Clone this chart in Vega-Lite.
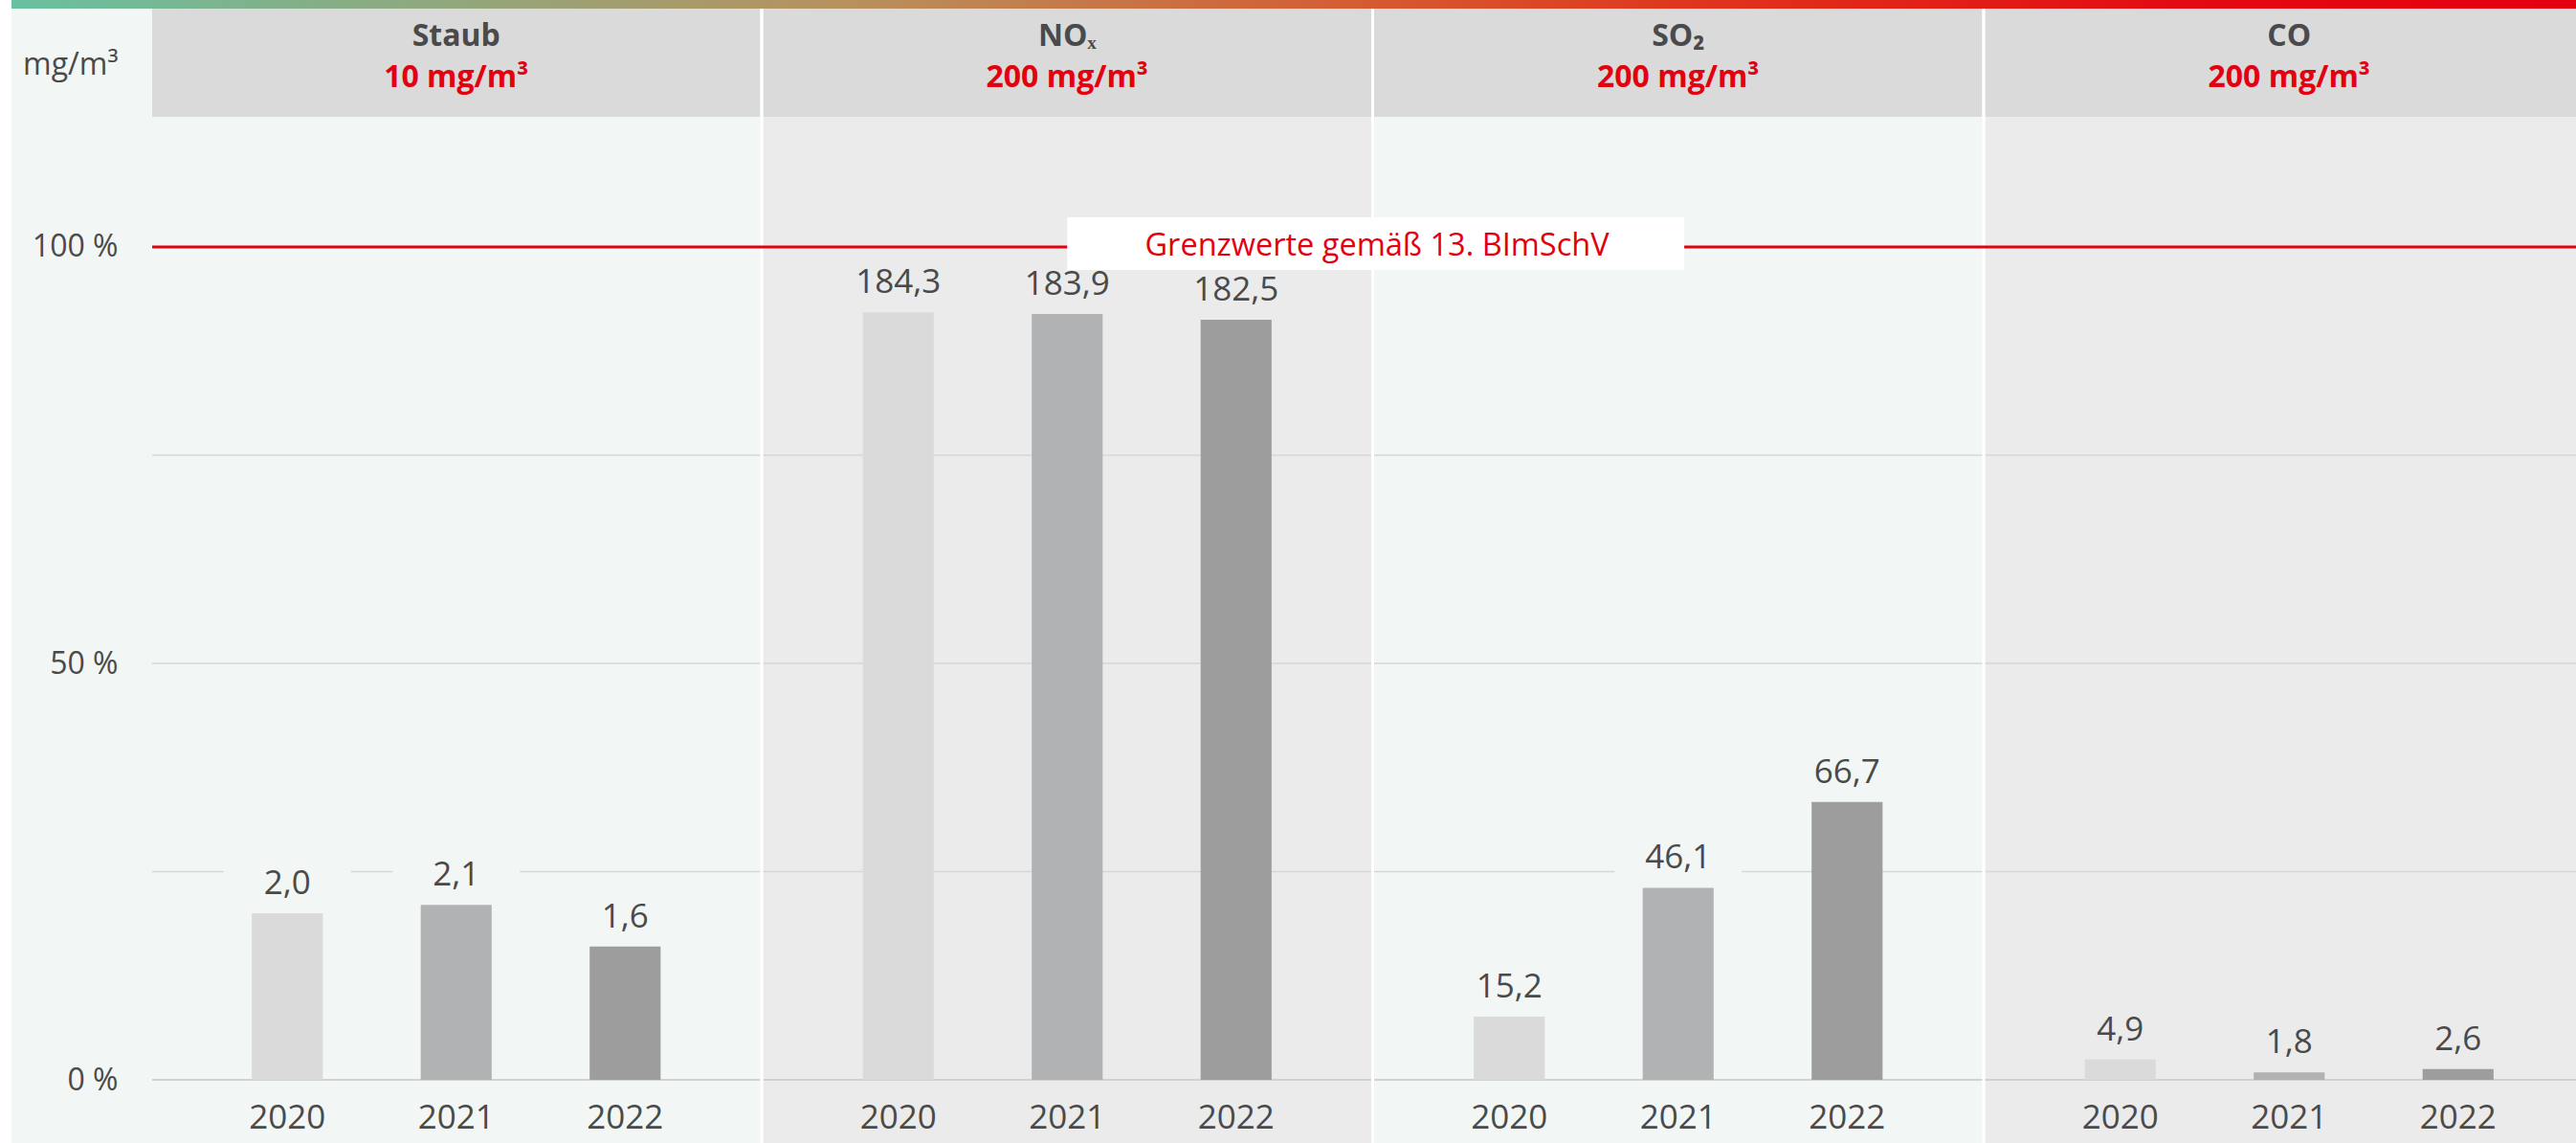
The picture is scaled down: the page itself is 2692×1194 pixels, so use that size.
{
  "$schema": "https://vega.github.io/schema/vega-lite/v6.json",
  "width": 2680,
  "height": 1194,
  "autosize": {"type": "none"},
  "padding": {"left": 12, "top": 0, "right": 0, "bottom": 0},
  "background": "#ffffff",
  "view": {"fill": "#f2f7f5", "stroke": null},
  "datasets": {
    "messwerte": [
      {"stoff": "Staub", "jahr": "2020", "wert": 2.0, "anteil": 20},
      {"stoff": "Staub", "jahr": "2021", "wert": 2.1, "anteil": 21},
      {"stoff": "Staub", "jahr": "2022", "wert": 1.6, "anteil": 16},
      {"stoff": "NOₓ", "jahr": "2020", "wert": 184.3, "anteil": 92.15},
      {"stoff": "NOₓ", "jahr": "2021", "wert": 183.9, "anteil": 91.95},
      {"stoff": "NOₓ", "jahr": "2022", "wert": 182.5, "anteil": 91.25},
      {"stoff": "SO₂", "jahr": "2020", "wert": 15.2, "anteil": 7.6},
      {"stoff": "SO₂", "jahr": "2021", "wert": 46.1, "anteil": 23.05},
      {"stoff": "SO₂", "jahr": "2022", "wert": 66.7, "anteil": 33.35},
      {"stoff": "CO", "jahr": "2020", "wert": 4.9, "anteil": 2.45},
      {"stoff": "CO", "jahr": "2021", "wert": 1.8, "anteil": 0.9},
      {"stoff": "CO", "jahr": "2022", "wert": 2.6, "anteil": 1.3}
    ],
    "stoffe": [
      {"stoff": "Staub", "grenzwert": "10 mg/m³"},
      {"stoff": "NOₓ", "grenzwert": "200 mg/m³"},
      {"stoff": "SO₂", "grenzwert": "200 mg/m³"},
      {"stoff": "CO", "grenzwert": "200 mg/m³"}
    ],
    "raster": [{"linie": 25}, {"linie": 50}, {"linie": 75}],
    "einzeln": [{"text": "Grenzwerte gemäß 13. BImSchV"}]
  },
  "layer": [
    {
      "data": {"name": "stoffe"},
      "mark": {"type": "rect"},
      "encoding": {
        "x": {"field": "stoff", "type": "nominal", "sort": null,
              "scale": {"domain": ["Staub", "NOₓ", "SO₂", "CO"], "range": [147, 2698], "paddingInner": 0.0047, "paddingOuter": 0},
              "axis": null},
        "y": {"datum": -7.586, "type": "quantitative",
              "scale": {"domain": [-7.586, 129.655], "nice": false, "zero": false},
              "axis": {"values": [0, 25, 50, 75, 100],
                       "labelExpr": "datum.value === 0 || datum.value === 50 || datum.value === 100 ? datum.value + ' %' : ''",
                       "grid": false, "ticks": false, "domain": false, "offset": -147, "labelPadding": 36,
                       "labelFont": "Open Sans", "labelFontSize": 32, "labelColor": "#4a4a4a",
                       "title": "mg/m³", "titleAngle": 0, "titleAlign": "right", "titleBaseline": "alphabetic",
                       "titleX": -36, "titleY": 77, "titleFont": "Open Sans", "titleFontSize": 32,
                       "titleFontWeight": "normal", "titleColor": "#4a4a4a", "zindex": 1}},
        "y2": {"datum": 115.63},
        "fill": {"field": "stoff", "type": "nominal",
                 "scale": {"domain": ["Staub", "NOₓ", "SO₂", "CO"], "range": ["#f2f7f5", "#ebebeb", "#f2f7f5", "#ebebeb"]},
                 "legend": null}
      }
    },
    {
      "data": {"name": "stoffe"},
      "mark": {"type": "rect", "fill": "#dadada"},
      "encoding": {
        "x": {"field": "stoff", "type": "nominal", "sort": null, "axis": null},
        "y": {"datum": 115.63, "type": "quantitative"},
        "y2": {"datum": 128.62}
      }
    },
    {
      "data": {"values": [{}]},
      "mark": {"type": "rect",
               "fill": {"gradient": "linear", "x1": 0, "y1": 0, "x2": 1, "y2": 0,
                        "stops": [
                          {"offset": 0, "color": "#68c0a0"},
                          {"offset": 0.33, "color": "#b8905c"},
                          {"offset": 0.53, "color": "#d65a32"},
                          {"offset": 0.667, "color": "#e0321c"},
                          {"offset": 0.85, "color": "#e30a12"},
                          {"offset": 1, "color": "#e3000f"}
                        ]}},
      "encoding": {
        "y": {"datum": 128.62, "type": "quantitative"},
        "y2": {"datum": 129.655}
      }
    },
    {
      "data": {"name": "raster"},
      "mark": {"type": "rule", "stroke": "#d6d6d6", "strokeWidth": 1.5},
      "encoding": {
        "x": {"datum": "Staub", "type": "nominal", "bandPosition": 0, "axis": null},
        "x2": {"datum": "CO", "bandPosition": 1},
        "y": {"field": "linie", "type": "quantitative"}
      }
    },
    {
      "data": {"values": [{}]},
      "mark": {"type": "rule", "stroke": "#d2d2d2", "strokeWidth": 2},
      "encoding": {
        "x": {"datum": "Staub", "type": "nominal", "bandPosition": 0, "axis": null},
        "x2": {"datum": "CO", "bandPosition": 1},
        "y": {"datum": 0, "type": "quantitative"}
      }
    },
    {
      "data": {"name": "messwerte"},
      "mark": {"type": "rect", "width": 133, "yOffset": -2, "y2Offset": -52},
      "encoding": {
        "x": {"field": "stoff", "type": "nominal", "sort": null, "axis": null},
        "xOffset": {"field": "jahr", "type": "nominal"},
        "y": {"field": "anteil", "type": "quantitative"},
        "y2": {"field": "anteil"},
        "fill": {"field": "stoff", "type": "nominal", "legend": null}
      }
    },
    {
      "data": {"name": "messwerte"},
      "mark": {"type": "bar"},
      "encoding": {
        "x": {"field": "stoff", "type": "nominal", "sort": null, "axis": null},
        "xOffset": {"field": "jahr", "type": "nominal", "scale": {"paddingInner": 0.58, "paddingOuter": 0.59}},
        "y": {"field": "anteil", "type": "quantitative"},
        "color": {"field": "jahr", "type": "nominal",
                  "scale": {"domain": ["2020", "2021", "2022"], "range": ["#dadada", "#b1b2b3", "#9c9d9c"]},
                  "legend": null}
      }
    },
    {
      "data": {"name": "messwerte"},
      "mark": {"type": "text", "font": "Open Sans", "fontSize": 35, "color": "#4a4a4a", "baseline": "alphabetic", "dy": -20},
      "encoding": {
        "x": {"field": "stoff", "type": "nominal", "sort": null, "axis": null},
        "xOffset": {"field": "jahr", "type": "nominal"},
        "y": {"field": "anteil", "type": "quantitative"},
        "text": {"field": "wert", "type": "quantitative", "format": ".1f"}
      }
    },
    {
      "data": {"name": "messwerte"},
      "mark": {"type": "text", "font": "Open Sans", "fontSize": 35, "color": "#4a4a4a", "baseline": "alphabetic", "dy": 51},
      "encoding": {
        "x": {"field": "stoff", "type": "nominal", "sort": null, "axis": null},
        "xOffset": {"field": "jahr", "type": "nominal"},
        "y": {"datum": 0, "type": "quantitative"},
        "text": {"field": "jahr"}
      }
    },
    {
      "data": {"name": "stoffe"},
      "transform": [{"filter": "datum.stoff !== 'Staub'"}],
      "mark": {"type": "rule", "stroke": "#ffffff", "strokeWidth": 3, "xOffset": -1.5},
      "encoding": {
        "x": {"field": "stoff", "type": "nominal", "sort": null, "bandPosition": 0, "axis": null},
        "y": {"datum": -7.586, "type": "quantitative"},
        "y2": {"datum": 128.62}
      }
    },
    {
      "data": {"values": [{}]},
      "mark": {"type": "rule", "stroke": "#e3000f", "strokeWidth": 3},
      "encoding": {
        "x": {"datum": "Staub", "type": "nominal", "bandPosition": 0, "axis": null},
        "x2": {"datum": "CO", "bandPosition": 1},
        "y": {"datum": 100, "type": "quantitative"}
      }
    },
    {
      "data": {"values": [{}]},
      "mark": {"type": "rect", "fill": "#ffffff"},
      "encoding": {
        "x": {"datum": "NOₓ", "type": "nominal", "bandPosition": 0.5, "axis": null},
        "x2": {"datum": "SO₂", "bandPosition": 0.51},
        "y": {"datum": 97.25, "type": "quantitative"},
        "y2": {"datum": 103.56}
      }
    },
    {
      "data": {"name": "einzeln"},
      "mark": {"type": "text", "font": "Open Sans", "fontSize": 32.5, "color": "#e3000f", "baseline": "alphabetic", "align": "center", "dx": 3, "dy": 9},
      "encoding": {
        "x": {"datum": "SO₂", "type": "nominal", "bandPosition": 0, "axis": null},
        "y": {"datum": 100, "type": "quantitative"},
        "text": {"field": "text"}
      }
    },
    {
      "data": {"name": "stoffe"},
      "mark": {"type": "text", "font": "Open Sans", "fontSize": 32, "fontWeight": "bold", "color": "#4a4a4a", "baseline": "alphabetic"},
      "encoding": {
        "x": {"field": "stoff", "type": "nominal", "sort": null, "axis": null},
        "y": {"datum": 124.14, "type": "quantitative"},
        "text": {"field": "stoff"}
      }
    },
    {
      "data": {"name": "stoffe"},
      "mark": {"type": "text", "font": "Open Sans", "fontSize": 32, "fontWeight": "bold", "color": "#e3000f", "baseline": "alphabetic"},
      "encoding": {
        "x": {"field": "stoff", "type": "nominal", "sort": null, "axis": null},
        "y": {"datum": 119.2, "type": "quantitative"},
        "text": {"field": "grenzwert"}
      }
    }
  ],
  "config": {
    "font": "Open Sans",
    "locale": {"number": {"decimal": ",", "thousands": ".", "grouping": [3], "currency": ["", " €"]}}
  }
}
